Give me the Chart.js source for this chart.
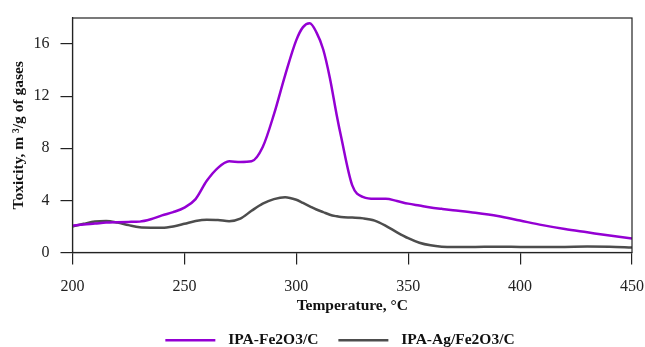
<!DOCTYPE html>
<html>
<head>
<meta charset="utf-8">
<script src="https://cdn.jsdelivr.net/npm/chart.js@4.4.1/dist/chart.umd.min.js"></script>
<style>
  html, body { margin: 0; padding: 0; background: #fff; }
  #wrap { width: 645px; height: 347px; }
</style>
</head>
<body>
<div id="wrap"><canvas id="chart"></canvas></div>
<script>
// Temperature (°C) and toxicity (m³/g of gases)
const temps = [200, 205, 210, 215, 220, 225, 230, 235, 240, 245, 250, 255, 260, 265, 270, 275, 280, 285, 290, 295,
  300, 303, 306, 309, 312, 315, 318, 320, 325, 330, 335, 340, 345, 350, 355, 360, 365, 370, 380, 390, 400, 410, 420, 430, 440, 450];

const fe2o3 = [2.05, 2.15, 2.22, 2.3, 2.33, 2.35, 2.37, 2.55, 2.85, 3.1, 3.45, 4.1, 5.5, 6.5, 7.0, 6.95, 7.0, 8.1, 10.6, 13.6,
  16.3, 17.3, 17.6, 16.9, 15.6, 13.4, 10.6, 8.9, 5.15, 4.25, 4.12, 4.13, 3.95, 3.75, 3.6, 3.45, 3.35, 3.25, 3.05, 2.8, 2.45, 2.1, 1.8, 1.55, 1.3, 1.08];

const agFe2o3 = [2.0, 2.2, 2.38, 2.42, 2.3, 2.1, 1.93, 1.9, 1.9, 2.0, 2.2, 2.42, 2.52, 2.5, 2.4, 2.6, 3.2, 3.75, 4.1, 4.25,
  4.05, 3.8, 3.55, 3.3, 3.1, 2.9, 2.78, 2.72, 2.68, 2.62, 2.45, 2.05, 1.55, 1.1, 0.75, 0.55, 0.45, 0.42, 0.43, 0.45, 0.43, 0.42, 0.43, 0.46, 0.45, 0.38];

const seriesNames = ['IPA-Fe2O3/C', 'IPA-Ag/Fe2O3/C'];
const seriesColors = ['#9400d3', '#4d4d4d'];
const xTicks = [200, 250, 300, 350, 400, 450];
const yTicks = [0, 4, 8, 12, 16];

const FONT = "'Liberation Serif', 'Times New Roman', serif";
const AXIS = '#222';

const toPoints = ys => temps.map((t, i) => ({ x: t, y: ys[i] }));

// box round the plot area (top and right edges)
const frame = {
  id: 'frame',
  afterDraw(chart) {
    const { ctx, chartArea: a } = chart;
    ctx.save();
    ctx.strokeStyle = AXIS;
    ctx.lineWidth = 1.2;
    ctx.strokeRect(a.left, a.top, a.right - a.left, a.bottom - a.top);
    ctx.restore();
  }
};

// nudge legend like the original (a bit right, a bit up)
const legendShift = {
  id: 'legendShift',
  afterLayout(chart) {
    const lg = chart.legend;
    if (lg) {
      lg.left += 24;
      lg.right += 24;
      lg.top -= 3;
      lg.bottom -= 3;
    }
  }
};

new Chart(document.getElementById('chart'), {
  type: 'line',
  data: {
    datasets: [fe2o3, agFe2o3].map((ys, i) => ({
      label: seriesNames[i],
      data: toPoints(ys),
      borderColor: seriesColors[i],
      backgroundColor: seriesColors[i],
      borderWidth: 2.5,
      pointRadius: 0,
      cubicInterpolationMode: 'monotone',
      fill: false
    }))
  },
  options: {
    responsive: true,
    maintainAspectRatio: false,
    animation: false,
    layout: { padding: { top: 18, right: 13, left: 0, bottom: -14 } },
    plugins: {
      tooltip: { enabled: false },
      legend: {
        position: 'bottom',
        labels: {
          boxWidth: 50,
          boxHeight: 2.5,
          padding: 20,
          color: '#111',
          font: { family: FONT, size: 15.5, weight: 'bold' },
          generateLabels(chart) {
            // small space before the text so the gap after the line sample is wider
            return Chart.defaults.plugins.legend.labels.generateLabels(chart)
              .map(l => Object.assign(l, { lineWidth: 0, text: '\u2004' + l.text }));
          }
        }
      }
    },
    scales: {
      x: {
        type: 'linear',
        min: 200,
        max: 450,
        afterBuildTicks: s => { s.ticks = xTicks.map(v => ({ value: v })); },
        afterFit: s => { s.height = 63; s.paddingLeft = 0; s.paddingRight = 0; },
        grid: { drawOnChartArea: false, tickLength: 12, color: AXIS, lineWidth: 1.2 },
        border: { color: AXIS, width: 1.2 },
        ticks: { color: '#222', padding: 13, font: { family: FONT, size: 16 } },
        title: {
          display: true,
          text: 'Temperature, °C',
          color: '#111',
          padding: { top: 2, bottom: 0 },
          font: { family: FONT, size: 15.5, weight: 'bold' }
        }
      },
      y: {
        min: 0,
        max: 18,
        afterBuildTicks: s => { s.ticks = yTicks.map(v => ({ value: v })); },
        afterFit: s => { s.width = 72.5; s.paddingTop = 0; s.paddingBottom = 0; },
        grid: { drawOnChartArea: false, tickLength: 12, color: AXIS, lineWidth: 1.2 },
        border: { color: AXIS, width: 1.2 },
        ticks: { color: '#222', padding: 11, font: { family: FONT, size: 16 } },
        title: {
          display: true,
          text: 'Toxicity, m ³/g of gases',
          color: '#111',
          padding: { top: 10, bottom: 0 },
          font: { family: FONT, size: 15.5, weight: 'bold' }
        }
      }
    }
  },
  plugins: [frame, legendShift]
});
</script>
</body>
</html>
